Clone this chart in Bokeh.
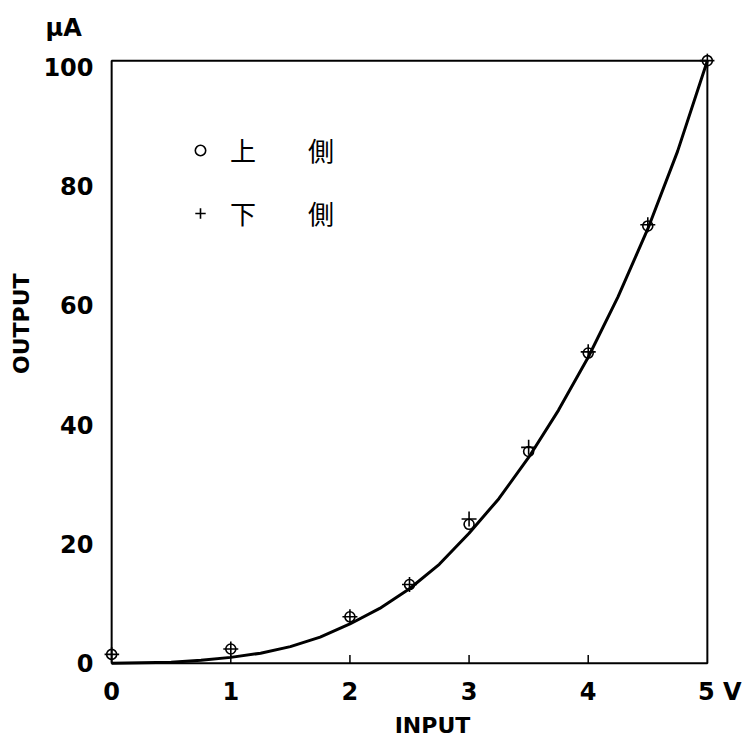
from bokeh.plotting import figure
from bokeh.models import (Range1d, FixedTicker, BoxAnnotation, Legend,
                          LegendItem, ColumnDataSource)
from bokeh.embed import file_html
from bokeh.resources import INLINE

# ---- data ----
x_pts = [0, 1, 2, 2.5, 3, 3.5, 4, 4.5, 5]
upper_side = [1.5, 2.4, 7.8, 13.2, 23.3, 35.5, 52.0, 73.3, 101.0]   # 上側 (o)
lower_side = [1.5, 2.4, 7.8, 13.2, 24.2, 36.2, 52.2, 73.5, 101.0]   # 下側 (+)

curve_x = [0, 0.25, 0.5, 0.75, 1, 1.25, 1.5, 1.75, 2, 2.25, 2.5, 2.75,
           3, 3.25, 3.5, 3.75, 4, 4.25, 4.5, 4.75, 5]
curve_y = [0, 0.1, 0.2, 0.5, 1.0, 1.7, 2.8, 4.4, 6.6, 9.2, 12.5, 16.6,
           21.8, 27.6, 34.5, 42.4, 51.3, 61.4, 72.8, 85.8, 101.0]

x_ticks = [0, 1, 2, 3, 4, 5]
y_ticks = [0, 20, 40, 60, 80, 100]
x_tick_labels = {5: "\u00a0\u00a0\u00a05\u00a0V"}
legend_labels = ["上\u3000\u3000側", "下\u3000\u3000側"]
x_title = "INPUT"
y_title = "OUTPUT"
unit_title = "μA"

FONT = "DejaVu Sans"
NB = "\u00a0"

p = figure(frame_width=610, frame_height=617,
           x_range=Range1d(-0.06, 5.06), y_range=Range1d(-1.2, 102.2),
           output_backend="svg", toolbar_location=None,
           min_border_left=104, min_border_right=30,
           min_border_top=53, min_border_bottom=66,
           title=unit_title)
p.xgrid.visible = False
p.ygrid.visible = False
p.outline_line_color = None
p.background_fill_color = "white"

p.title.text_font = FONT
p.title.text_font_style = "bold"
p.title.text_font_size = "24px"
p.title.text_color = "black"
p.title.align = "left"
p.title.offset = -59
p.title.standoff = 23

for ax in (p.xaxis[0], p.yaxis[0]):
    ax.axis_line_color = None
    ax.major_tick_line_color = None
    ax.minor_tick_line_color = None
    ax.major_label_text_font = FONT
    ax.major_label_text_font_style = "bold"
    ax.major_label_text_font_size = "24px"
    ax.major_label_text_color = "black"
    ax.axis_label_text_font = FONT
    ax.axis_label_text_font_style = "bold"
    ax.axis_label_text_color = "black"

p.xaxis.ticker = FixedTicker(ticks=x_ticks)
p.yaxis.ticker = FixedTicker(ticks=y_ticks)
p.xaxis.major_label_overrides = x_tick_labels
p.xaxis.major_label_standoff = 1
p.yaxis.major_label_standoff = 5

p.xaxis.axis_label = NB * 6 + x_title
p.xaxis.axis_label_text_font_size = "22px"
p.xaxis.axis_label_standoff = 4
p.yaxis.axis_label = NB * 10 + y_title
p.yaxis.axis_label_text_font_size = "22px"
p.yaxis.axis_label_standoff = 6

# frame box at the data limits
p.add_layout(BoxAnnotation(left=x_ticks[0], right=x_ticks[-1], bottom=0, top=101,
                           fill_color=None, fill_alpha=0,
                           line_color="black", line_alpha=1, line_width=2))

# inward ticks on the input axis
p.segment(x0=x_ticks[1:-1], y0=[0] * 4, x1=x_ticks[1:-1], y1=[1.4] * 4,
          line_color="black", line_width=1.5)

# curve
p.line(curve_x, curve_y, line_color="black", line_width=3)

src = ColumnDataSource(dict(x=x_pts, up=upper_side, lo=lower_side))
r_up = p.scatter("x", "up", source=src, marker="circle", size=10,
                 fill_color=None, line_color="black", line_width=1.6)
r_lo = p.scatter("x", "lo", source=src, marker="cross", size=15,
                 line_color="black", line_width=1.6)

legend = Legend(items=[LegendItem(label=legend_labels[0], renderers=[r_up]),
                       LegendItem(label=legend_labels[1], renderers=[r_lo])],
                location=(83, 439), orientation="vertical",
                glyph_width=26, glyph_height=30, label_height=30,
                label_standoff=17, spacing=26, padding=0, margin=0,
                border_line_color=None, background_fill_alpha=0,
                label_text_font="Noto Sans CJK JP", label_text_font_size="26px",
                label_text_color="black", label_text_baseline="middle")
p.add_layout(legend)

open("out.html", "w").write(file_html(p, INLINE))
